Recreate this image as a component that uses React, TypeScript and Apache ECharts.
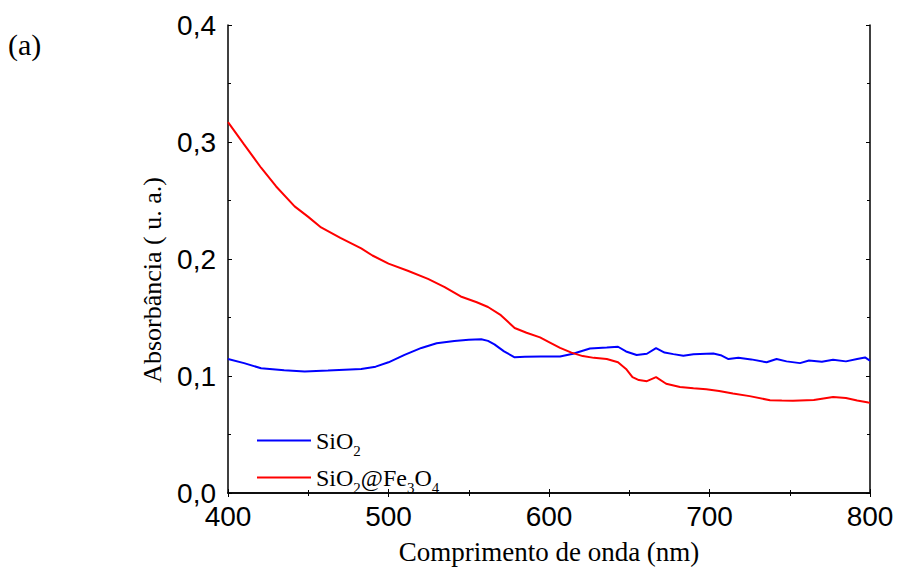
import React, { useEffect, useRef } from "react";
import * as echarts from "echarts";

const xTicks = [400, 500, 600, 700, 800];
const yTicks = [0, 0.1, 0.2, 0.3, 0.4];

const sio2X = [400, 410, 420.6, 435, 447.8, 462.3, 483, 492, 500, 510, 520.5, 530, 541, 550, 557.8, 562, 566, 572, 578.6, 585, 595, 606.9, 615, 625.5, 636, 643, 648, 654.6, 661, 666.7, 672, 677.5, 683.7, 690, 698, 702.4, 707, 711.8, 718, 726, 735.6, 741.8, 748, 756.4, 762, 770, 777, 785, 792, 796.9, 799, 800];
const sio2Y = [0.1145, 0.111, 0.1066, 0.105, 0.1038, 0.1046, 0.106, 0.108, 0.1117, 0.118, 0.124, 0.128, 0.13, 0.131, 0.1314, 0.13, 0.127, 0.121, 0.116, 0.1165, 0.1167, 0.1167, 0.119, 0.1235, 0.1243, 0.125, 0.121, 0.1179, 0.119, 0.1238, 0.12, 0.1187, 0.1173, 0.1185, 0.119, 0.1192, 0.1178, 0.1145, 0.1155, 0.1142, 0.1117, 0.1145, 0.1125, 0.111, 0.1132, 0.1122, 0.1138, 0.1125, 0.1145, 0.1159, 0.114, 0.113];

const feX = [400, 410, 420.6, 430, 441.5, 450, 458, 470, 483, 490, 500, 512, 524.6, 535, 545, 555, 562, 570, 578.6, 586, 594.4, 600, 606.9, 614, 621, 628, 636, 643, 648, 652, 656, 661, 666.7, 673, 681.6, 690, 698, 706, 714.6, 725, 737.7, 745, 752, 765, 777, 785, 792, 799, 800];
const feY = [0.317, 0.298, 0.278, 0.262, 0.245, 0.236, 0.227, 0.218, 0.209, 0.203, 0.196, 0.19, 0.183, 0.176, 0.168, 0.163, 0.159, 0.152, 0.141, 0.137, 0.133, 0.129, 0.124, 0.12, 0.117, 0.1155, 0.1145, 0.1117, 0.106, 0.099, 0.0965, 0.0956, 0.099, 0.0934, 0.0906, 0.0895, 0.0886, 0.0872, 0.085, 0.0828, 0.0793, 0.079, 0.0788, 0.0795, 0.0821, 0.0812, 0.079, 0.0774, 0.0772];

const legendNames = ["SiO2", "SiO2@Fe3O4"];

function pairs(xs: number[], ys: number[]) {
  return xs.map((x, i) => [x, ys[i]]);
}

export default function App() {
  const ref = useRef<HTMLDivElement>(null);
  useEffect(() => {
    if (!ref.current) return;
    const chart = echarts.init(ref.current, null, { renderer: "svg" });
    const tickCommon = {
      axisLine: { show: true, lineStyle: { color: "#000", width: 1.5 } },
      axisTick: { show: true, inside: true, length: 4, lineStyle: { color: "#000" } },
      minorTick: { show: true, splitNumber: 2, length: 3, lineStyle: { color: "#000" } },
      splitLine: { show: false },
    };
    const serif = "'Liberation Serif', 'Times New Roman', serif";
    const sans = "'Liberation Sans', Arial, sans-serif";
    chart.setOption({
      animation: false,
      backgroundColor: "#fff",
      grid: { left: 228, top: 25, right: 30, bottom: 71, containLabel: false },
      xAxis: [
        {
          type: "value",
          min: xTicks[0],
          max: xTicks[xTicks.length - 1],
          interval: 100,
          ...tickCommon,
          axisLabel: { color: "#000", fontSize: 28, fontFamily: sans, margin: 9 },
          name: "Comprimento de onda (nm)",
          nameLocation: "middle",
          nameGap: 45,
          nameTextStyle: { color: "#000", fontSize: 27, fontFamily: serif },
        },
        {
          type: "value",
          position: "top",
          min: xTicks[0],
          max: xTicks[xTicks.length - 1],
          interval: 100,
          ...tickCommon,
          axisLabel: { show: false },
        },
      ],
      yAxis: [
        {
          type: "value",
          min: yTicks[0],
          max: yTicks[yTicks.length - 1],
          interval: 0.1,
          ...tickCommon,
          axisLabel: {
            color: "#000",
            fontSize: 28,
            fontFamily: sans,
            margin: 12,
            formatter: (v: number) => v.toFixed(1).replace(".", ","),
          },
        },
        {
          type: "value",
          position: "right",
          min: yTicks[0],
          max: yTicks[yTicks.length - 1],
          interval: 0.1,
          ...tickCommon,
          axisLabel: { show: false },
        },
      ],
      legend: {
        orient: "vertical",
        left: 252,
        top: 418,
        itemWidth: 54,
        itemHeight: 2,
        itemGap: 2,
        icon: "rect",
        data: legendNames,
        formatter: (name: string) =>
          name === "SiO2"
            ? "{n|SiO}{s|2}"
            : "{n|SiO}{s|2}{n|@Fe}{s|3}{n|O}{s|4}",
        textStyle: {
          rich: {
            n: { fontSize: 24, fontFamily: serif, color: "#000", lineHeight: 34 },
            s: { fontSize: 15, fontFamily: serif, color: "#000", padding: [20, 0, 0, 0], lineHeight: 34 },
          },
        },
      },
      series: [
        {
          name: legendNames[0],
          type: "line",
          data: pairs(sio2X, sio2Y),
          showSymbol: false,
          symbol: "none",
          lineStyle: { color: "#0000ff", width: 2 },
          itemStyle: { color: "#0000ff" },
        },
        {
          name: legendNames[1],
          type: "line",
          data: pairs(feX, feY),
          showSymbol: false,
          symbol: "none",
          lineStyle: { color: "#ff0000", width: 2 },
          itemStyle: { color: "#ff0000" },
        },
      ],
      graphic: [
        {
          type: "text",
          left: 8,
          top: 29,
          style: { text: "(a)", fontSize: 30, fontFamily: serif, fill: "#000" },
        },
        {
          type: "text",
          x: 152,
          y: 280,
          rotation: Math.PI / 2,
          style: {
            text: "Absorbância ( u. a.)",
            fontSize: 26,
            fontFamily: serif,
            fill: "#000",
            align: "center",
            verticalAlign: "middle",
          },
        },
      ],
    });
    return () => chart.dispose();
  }, []);
  return <div ref={ref} style={{ width: 900, height: 570, position: "absolute", left: 0, top: 0 }} />;
}
